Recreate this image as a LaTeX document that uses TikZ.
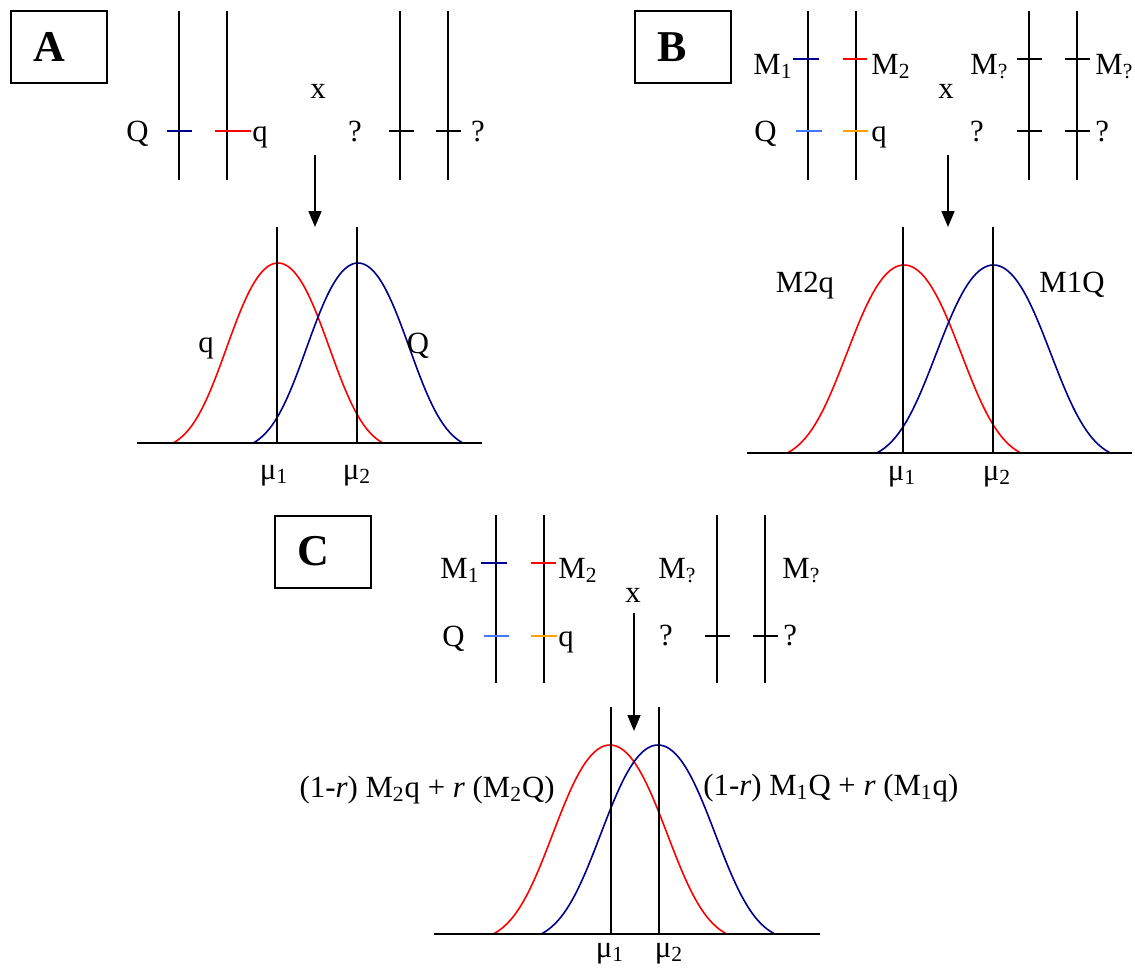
\documentclass[tikz,border=0pt]{standalone}
\usepackage{fontspec}
\setmainfont{Liberation Serif}
\usepackage{tikz}
\usetikzlibrary{arrows.meta}
\definecolor{ChromNavy}{RGB}{0,0,140}
\definecolor{ChromRed}{RGB}{255,0,0}
\definecolor{ChromSky}{RGB}{70,120,255}
\definecolor{ChromAmber}{RGB}{255,160,0}
\tikzset{
  panelbox/.style={draw, line width=1pt, minimum height=36pt, text width=26pt, inner xsep=11pt,
    align=left, font=\fontsize{22}{26}\selectfont\bfseries},
  chrom/.style={line width=1pt},
  locus/.style={line width=1pt},
  lbl/.style={inner sep=0pt, font=\fontsize{15.4}{18}\selectfont},
  axisline/.style={line width=1pt},
  meanline/.style={line width=0.8pt},
  bell/.style={line width=0.8pt},
  crossarrow/.style={-{Triangle[length=8pt,width=6.5pt]}, line width=0.8pt},
}
% colour, centre, baseline, height, half-width
\newcommand{\bellcurve}[5]{%
  \draw[bell, #1] plot[domain=-1:1, samples=81, smooth]
    ({#2+#5*\x}, {#3-#4*((1+2.4*\x*\x)*exp(-4.4*\x*\x)-0.0421)/0.9579});
}

\begin{document}
\begin{tikzpicture}[x=0.5pt, y=-0.5pt]
  \useasboundingbox (0,0) rectangle (1135,971);

  % panel A
  \node[panelbox] (boxA) at (59,47) {A};
  \foreach \xx in {179,227,400,448} \draw[chrom] (\xx,11) -- (\xx,180);
  \draw[locus, ChromNavy] (167,131) -- (192,131);
  \draw[locus, ChromRed] (215,131) -- (251,131);
  \draw[locus] (389,131) -- (414,131);
  \draw[locus] (436,131) -- (461,131);
  \node[lbl, anchor=base east] (aQ) at (149,141) {Q};
  \node[lbl, anchor=base west] (aq) at (252,141) {q};
  \node[lbl, anchor=base] (ax) at (318,98) {x};
  \node[lbl, anchor=base] (aunkL) at (355,141) {?};
  \node[lbl, anchor=base] (aunkR) at (478,141) {?};
  \coordinate (arrA-from) at (315,155);
  \coordinate (arrA-to) at (315,227);
  \draw[crossarrow] (arrA-from) -- (arrA-to);
  \bellcurve{ChromRed}{278}{443}{180}{105}
  \bellcurve{ChromNavy}{358}{443}{180}{105}
  \draw[axisline] (137,443) -- (482,443);
  \foreach \xx in {277,357} \draw[meanline] (\xx,227) -- (\xx,443);
  \node[lbl, anchor=base] (aqcurve) at (206,352) {q};
  \node[lbl, anchor=base] (aQcurve) at (418,353) {Q};
  \node[lbl, anchor=base] (amuA) at (274,479) {μ\textsubscript{1}};
  \node[lbl, anchor=base] (amuB) at (357,479) {μ\textsubscript{2}};

  % panel B
  \node[panelbox] (boxB) at (683,47) {B};
  \foreach \xx in {808,856,1029,1077} \draw[chrom] (\xx,11) -- (\xx,180);
  \draw[locus, ChromNavy] (793,59) -- (819,59);
  \draw[locus, ChromRed] (843,59) -- (867,59);
  \draw[locus, ChromSky] (796,131) -- (822,131);
  \draw[locus, ChromAmber] (843,131) -- (868,131);
  \foreach \yy in {59,131} {
    \draw[locus] (1017,\yy) -- (1042,\yy);
    \draw[locus] (1065,\yy) -- (1090,\yy);
  }
  \node[lbl, anchor=base east] (bM1) at (793,74) {M\textsubscript{1}};
  \node[lbl, anchor=base west] (bM2) at (871,74) {M\textsubscript{2}};
  \node[lbl, anchor=base east] (bQ) at (777,141) {Q};
  \node[lbl, anchor=base west] (bq) at (871,141) {q};
  \node[lbl, anchor=base] (bx) at (946,98) {x};
  \node[lbl, anchor=base west] (bMunkL) at (970,74) {M\textsubscript{?}};
  \node[lbl, anchor=base west] (bMunkR) at (1095,74) {M\textsubscript{?}};
  \node[lbl, anchor=base] (bunkL) at (977,141) {?};
  \node[lbl, anchor=base west] (bunkR) at (1095,141) {?};
  \coordinate (arrB-from) at (948,155);
  \coordinate (arrB-to) at (948,227);
  \draw[crossarrow] (arrB-from) -- (arrB-to);
  \bellcurve{ChromRed}{904}{453}{188}{117}
  \bellcurve{ChromNavy}{993.5}{453}{188}{117}
  \draw[axisline] (747,453) -- (1132,453);
  \foreach \xx in {903,993} \draw[meanline] (\xx,227) -- (\xx,453);
  \node[lbl, anchor=base] (bM2q) at (805,292) {M2q};
  \node[lbl, anchor=base] (bM1Q) at (1072,292) {M1Q};
  \node[lbl, anchor=base] (bmuA) at (902,480) {μ\textsubscript{1}};
  \node[lbl, anchor=base] (bmuB) at (997,480) {μ\textsubscript{2}};

  % panel C
  \node[panelbox] (boxC) at (323,551.5) {C};
  \foreach \xx in {496,544,717,765} \draw[chrom] (\xx,515) -- (\xx,683);
  \draw[locus, ChromNavy] (481,563) -- (507,563);
  \draw[locus, ChromRed] (531,563) -- (556,563);
  \draw[locus, ChromSky] (484,636) -- (509,636);
  \draw[locus, ChromAmber] (531,636) -- (557,636);
  \draw[locus] (705,636) -- (730,636);
  \draw[locus] (753,636) -- (778,636);
  \node[lbl, anchor=base east] (cM1) at (480,578) {M\textsubscript{1}};
  \node[lbl, anchor=base west] (cM2) at (558,578) {M\textsubscript{2}};
  \node[lbl, anchor=base east] (cQ) at (465,646) {Q};
  \node[lbl, anchor=base west] (cq) at (558,646) {q};
  \node[lbl, anchor=base] (cx) at (633,602) {x};
  \node[lbl, anchor=base west] (cMunkL) at (658,578) {M\textsubscript{?}};
  \node[lbl, anchor=base west] (cMunkR) at (782,578) {M\textsubscript{?}};
  \node[lbl, anchor=base] (cunkL) at (666,645) {?};
  \node[lbl, anchor=base west] (cunkR) at (783,645) {?};
  \coordinate (arrC-from) at (634,613);
  \coordinate (arrC-to) at (634,731);
  \bellcurve{ChromRed}{610}{934}{189}{117}
  \bellcurve{ChromNavy}{658}{934}{189}{117}
  \draw[axisline] (434,934) -- (820,934);
  \foreach \xx in {611,659} \draw[meanline] (\xx,707) -- (\xx,934);
  \draw[crossarrow] (arrC-from) -- (arrC-to);
  \node[lbl, anchor=base east] (cmixL) at (555,797)
    {(1-\textit{r}) M\textsubscript{2}q + \textit{r} (M\textsubscript{2}Q)};
  \node[lbl, anchor=base west] (cmixR) at (703,795)
    {(1-\textit{r}) M\textsubscript{1}Q + \textit{r} (M\textsubscript{1}q)};
  \node[lbl, anchor=base] (cmuA) at (610,957) {μ\textsubscript{1}};
  \node[lbl, anchor=base] (cmuB) at (669,957) {μ\textsubscript{2}};
\end{tikzpicture}
\end{document}
